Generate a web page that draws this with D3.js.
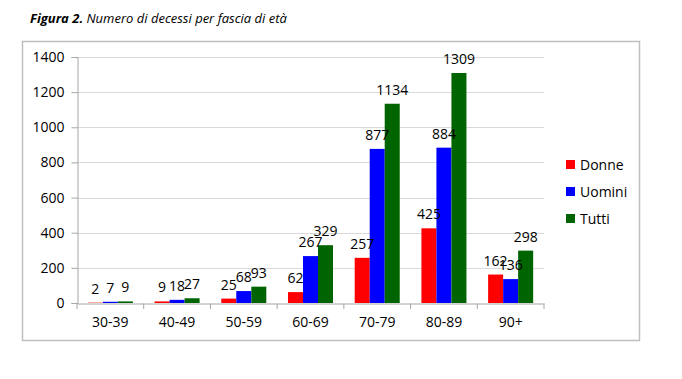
<!DOCTYPE html>
<html><head><meta charset="utf-8">
<script src="https://cdn.jsdelivr.net/npm/d3@7"></script>
<style>
body{margin:0;background:#fff;}
svg{display:block;font-family:"Open Sans",sans-serif;}
</style></head>
<body><svg id="c" width="682" height="379"></svg>
<script>
const categories = ["30-39","40-49","50-59","60-69","70-79","80-89","90+"];
const seriesNames = ["Donne","Uomini","Tutti"];
const donne  = [2, 9, 25, 62, 257, 425, 162];
const uomini = [7, 18, 68, 267, 877, 884, 136];
const tutti  = [9, 27, 93, 329, 1134, 1309, 298];
const colors = ["#ff0000","#0000ff","#006400"];
const yTicks = [0,200,400,600,800,1000,1200,1400];

const series = [donne, uomini, tutti];
const svg = d3.select("#c");

// title
const title = svg.append("text").attr("x",30).attr("y",23).attr("font-size",13).attr("font-style","italic").attr("fill","#000");
title.append("tspan").attr("font-weight","bold").text("Figura 2.");
title.append("tspan").text(" Numero di decessi per fascia di età");

// frame
svg.append("rect").attr("x",22.5).attr("y",41.5).attr("width",617).attr("height",299)
  .attr("fill","none").attr("stroke","#bfbfbf").attr("stroke-width",1.5);

const x0 = d3.scaleBand().domain(categories).range([77,544]).paddingInner(0).paddingOuter(0);
const x1 = d3.scaleBand().domain(seriesNames).range([x0.bandwidth()*0.1625, x0.bandwidth()*0.8375]);
const y = d3.scaleLinear().domain([0,1400]).range([303,57]);

// gridlines
svg.append("g").selectAll("line").data(yTicks.slice(1)).join("line")
  .attr("x1",77).attr("x2",544).attr("y1",d=>Math.round(y(d))+0.5).attr("y2",d=>Math.round(y(d))+0.5)
  .attr("stroke","#d9d9d9").attr("stroke-width",1);

// y axis
const ya = svg.append("g").attr("transform","translate(77.5,0)")
  .call(d3.axisLeft(y).tickValues(yTicks).tickSize(6).tickPadding(7).tickFormat(d3.format("d")));
ya.select(".domain").attr("stroke","#a6a6a6");
ya.selectAll(".tick line").attr("stroke","#a6a6a6");
ya.selectAll("text").attr("font-size",14).attr("font-family","Open Sans").attr("fill","#000");

// bars
const groups = svg.append("g").selectAll("g").data(categories).join("g")
  .attr("transform",d=>`translate(${x0(d)},0)`);
groups.selectAll("rect").data((c,i)=>series.map((s,j)=>({name:seriesNames[j],v:s[i],j})))
  .join("rect")
  .attr("x",d=>x1(d.name)).attr("width",x1.bandwidth())
  .attr("y",d=>y(d.v)).attr("height",d=>y(0)-y(d.v))
  .attr("fill",d=>colors[d.j]);
groups.selectAll("text").data((c,i)=>series.map((s,j)=>({name:seriesNames[j],v:s[i],j})))
  .join("text")
  .attr("x",d=>x1(d.name)+x1.bandwidth()/2).attr("y",d=>y(d.v)-9)
  .attr("text-anchor","middle").attr("font-size",14).attr("fill","#000")
  .text(d=>d.v);

// x axis
const xa = svg.append("g").attr("transform","translate(0,303.5)")
  .call(d3.axisBottom(x0).tickSize(0).tickPadding(14));
xa.select(".domain").attr("stroke","#a6a6a6");
xa.selectAll("text").attr("font-size",14).attr("font-family","Open Sans").attr("fill","#000");
svg.append("g").selectAll("line").data(d3.range(categories.length+1)).join("line")
  .attr("x1",i=>x0.range()[0]+i*x0.step()).attr("x2",i=>x0.range()[0]+i*x0.step())
  .attr("y1",303.5).attr("y2",309).attr("stroke","#a6a6a6");

// legend
const lg = svg.append("g").selectAll("g").data(seriesNames).join("g")
  .attr("transform",(d,i)=>`translate(566,${160+i*27})`);
lg.append("rect").attr("width",9).attr("height",9).attr("fill",(d,i)=>colors[i]);
lg.append("text").attr("x",14).attr("y",9.5).attr("font-size",14).attr("fill","#000").text(d=>d);
</script></body></html>
